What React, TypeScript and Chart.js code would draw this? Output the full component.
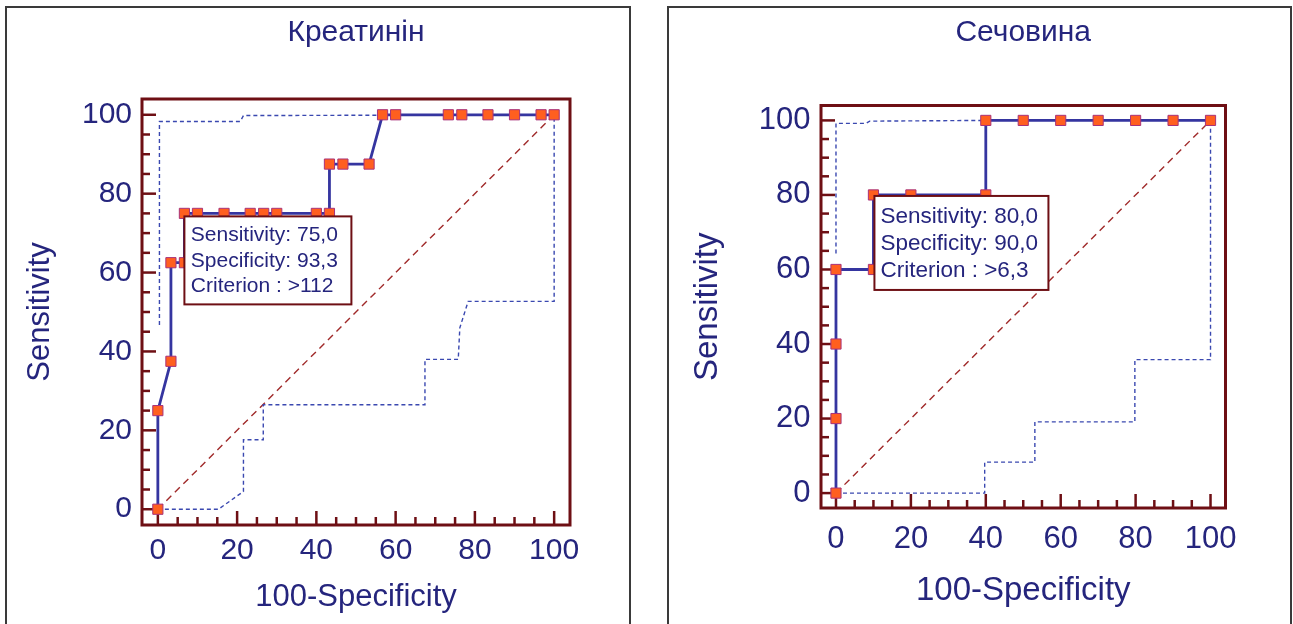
import React, { useEffect, useRef } from "react";
import { Chart, registerables } from "chart.js";

Chart.register(...registerables);

// ---------- Text ----------
const TITLE_CREA = "Креатинін";
const TITLE_UREA = "Сечовина";
const X_TITLE = "100-Specificity";
const Y_TITLE = "Sensitivity";

// ---------- Axis ticks ----------
const TICK_VALUES = [0, 20, 40, 60, 80, 100];
const MINOR_TICK_VALUES = [0, 5, 10, 15, 20, 25, 30, 35, 40, 45, 50, 55, 60, 65, 70, 75, 80, 85, 90, 95, 100];
const AXIS_MIN = -4;
const AXIS_MAX = 104;

// ---------- Креатинін ----------
const CREA_FPR = [0, 0, 3.3, 3.3, 6.7, 6.7, 10, 16.7, 23.3, 26.7, 30, 40, 43.3, 43.3, 46.7, 53.3, 56.7, 60, 73.3, 76.7, 83.3, 90, 96.7, 100];
const CREA_SENS = [0, 25, 37.5, 62.5, 62.5, 75, 75, 75, 75, 75, 75, 75, 75, 87.5, 87.5, 87.5, 100, 100, 100, 100, 100, 100, 100, 100];
const CREA_UPPER_X = [0.4, 0.4, 20.8, 21.6, 100];
const CREA_UPPER_Y = [46.7, 98.3, 98.3, 99.8, 100];
const CREA_LOWER_X = [0, 15.3, 21.6, 21.6, 26.6, 26.6, 67.4, 67.4, 75.8, 76.2, 78.3, 100, 100];
const CREA_LOWER_Y = [0, 0, 4.5, 17.6, 17.6, 26.5, 26.5, 38, 38, 46, 52.7, 52.7, 100];
const CREA_CRITERION = [6.7, 75];
const CREA_BOX_LINES = ["Sensitivity: 75,0", "Specificity: 93,3", "Criterion : >112"];

// ---------- Сечовина ----------
const UREA_FPR = [0, 0, 0, 0, 10, 10, 20, 40, 40, 50, 60, 70, 80, 90, 100];
const UREA_SENS = [0, 20, 40, 60, 60, 80, 80, 80, 100, 100, 100, 100, 100, 100, 100];
const UREA_UPPER_X = [0, 0, 8, 9, 40, 100];
const UREA_UPPER_Y = [64.3, 99.2, 99.2, 99.8, 100, 100];
const UREA_LOWER_X = [0, 39.7, 39.7, 53.1, 53.1, 79.8, 79.8, 100, 100];
const UREA_LOWER_Y = [0, 0, 8.3, 8.3, 19.1, 19.1, 35.8, 35.8, 100];
const UREA_CRITERION = [10, 80];
const UREA_BOX_LINES = ["Sensitivity: 80,0", "Specificity: 90,0", "Criterion : >6,3"];

const DIAG_X = [0, 100];
const DIAG_Y = [0, 100];

// ---------- Styles ----------
const FONT = "'Liberation Sans', Arial, Helvetica, sans-serif";
const TEXT_COLOR = "#25257d";
const FRAME_COLOR = "#6e0f14";
const ROC_COLOR = "#3535a0";
const MARKER_FILL = "#ff5f1f";
const MARKER_BORDER = "#a8327a";
const BAND_COLOR = "#3a48b0";
const DIAG_COLOR = "#a02a2a";

const zip = (xs: number[], ys: number[]) => xs.map((x, i) => ({ x, y: ys[i] }));

const frameTicksPlugin = {
  id: "frameTicks",
  beforeDatasetsDraw(chart: any) {
    const { ctx, chartArea: a, scales } = chart;
    ctx.save();
    ctx.strokeStyle = FRAME_COLOR;
    ctx.lineWidth = 2.5;
    MINOR_TICK_VALUES.forEach((v) => {
      const len = TICK_VALUES.includes(v) ? 14 : 8;
      const px = scales.x.getPixelForValue(v);
      ctx.beginPath();
      ctx.moveTo(px, a.bottom);
      ctx.lineTo(px, a.bottom - len);
      ctx.stroke();
      const py = scales.y.getPixelForValue(v);
      ctx.beginPath();
      ctx.moveTo(a.left, py);
      ctx.lineTo(a.left + len, py);
      ctx.stroke();
    });
    ctx.lineWidth = 3;
    ctx.strokeRect(a.left, a.top, a.right - a.left, a.bottom - a.top);
    ctx.restore();
  },
};

const rocBoxPlugin = {
  id: "rocBox",
  afterDatasetsDraw(chart: any, _args: any, opts: any) {
    const { ctx, scales } = chart;
    const x0 = scales.x.getPixelForValue(opts.anchor[0]) + opts.dx;
    const y0 = scales.y.getPixelForValue(opts.anchor[1]) + opts.dy;
    ctx.save();
    ctx.fillStyle = "#ffffff";
    ctx.fillRect(x0, y0, opts.w, opts.h);
    ctx.strokeStyle = FRAME_COLOR;
    ctx.lineWidth = 2;
    ctx.strokeRect(x0, y0, opts.w, opts.h);
    ctx.fillStyle = TEXT_COLOR;
    ctx.font = `${opts.fontSize}px ${FONT}`;
    ctx.textBaseline = "alphabetic";
    ctx.textAlign = "left";
    opts.lines.forEach((t: string, i: number) => {
      ctx.fillText(t, x0 + opts.padX, y0 + opts.firstBaseline + i * opts.lineGap);
    });
    ctx.restore();
  },
};

type PanelCfg = {
  title: string;
  fpr: number[];
  sens: number[];
  upperX: number[];
  upperY: number[];
  lowerX: number[];
  lowerY: number[];
  criterion: number[];
  boxLines: string[];
  L: any;
};

function makeConfig(p: PanelCfg): any {
  const L = p.L;
  return {
    type: "scatter",
    data: {
      datasets: [
        {
          data: zip(p.fpr, p.sens),
          showLine: true,
          borderColor: ROC_COLOR,
          borderWidth: 2.8,
          pointStyle: "rect",
          pointRadius: 7.2,
          pointBackgroundColor: MARKER_FILL,
          pointBorderColor: MARKER_BORDER,
          pointBorderWidth: 1,
          order: 0,
        },
        {
          data: zip(p.upperX, p.upperY),
          showLine: true,
          borderColor: BAND_COLOR,
          borderWidth: 1.4,
          borderDash: [4, 3],
          pointRadius: 0,
          order: 1,
        },
        {
          data: zip(p.lowerX, p.lowerY),
          showLine: true,
          borderColor: BAND_COLOR,
          borderWidth: 1.4,
          borderDash: [4, 3],
          pointRadius: 0,
          order: 2,
        },
        {
          data: zip(DIAG_X, DIAG_Y),
          showLine: true,
          borderColor: DIAG_COLOR,
          borderWidth: 1.4,
          borderDash: [7, 5],
          pointRadius: 0,
          order: 3,
        },
      ],
    },
    options: {
      responsive: false,
      animation: false,
      devicePixelRatio: 1,
      layout: { padding: { left: 0, right: L.padRight, top: 0, bottom: 0 } },
      scales: {
        x: {
          type: "linear",
          min: AXIS_MIN,
          max: AXIS_MAX,
          afterBuildTicks: (s: any) => {
            s.ticks = TICK_VALUES.map((v) => ({ value: v }));
          },
          afterFit: (s: any) => {
            s.height = L.xHeight;
          },
          grid: { display: false, drawTicks: false },
          border: { display: false },
          ticks: {
            color: TEXT_COLOR,
            font: { family: FONT, size: L.tickSize },
            padding: L.xTickPad,
            maxRotation: 0,
            autoSkip: false,
            callback: (v: any) => String(v),
          },
          title: {
            display: true,
            text: X_TITLE,
            color: TEXT_COLOR,
            font: { family: FONT, size: L.axisTitleSize },
            padding: { top: 0, bottom: L.xTitlePad },
          },
        },
        y: {
          type: "linear",
          min: AXIS_MIN,
          max: AXIS_MAX,
          afterBuildTicks: (s: any) => {
            s.ticks = TICK_VALUES.map((v) => ({ value: v }));
          },
          afterFit: (s: any) => {
            s.width = L.yWidth;
          },
          grid: { display: false, drawTicks: false },
          border: { display: false },
          ticks: {
            color: TEXT_COLOR,
            font: { family: FONT, size: L.tickSize },
            padding: L.yTickPad,
            autoSkip: false,
            callback: (v: any) => String(v),
          },
          title: {
            display: true,
            text: Y_TITLE,
            color: TEXT_COLOR,
            font: { family: FONT, size: L.axisTitleSize },
            padding: { top: L.yTitlePad, bottom: 0 },
          },
        },
      },
      plugins: {
        legend: { display: false },
        tooltip: { enabled: false },
        title: {
          display: true,
          text: p.title,
          fullSize: false,
          color: TEXT_COLOR,
          font: { family: FONT, size: 30, weight: "normal" },
          padding: { top: L.titleTop, bottom: L.titleBottom },
        },
        rocBox: {
          anchor: p.criterion,
          lines: p.boxLines,
          ...L.box,
        },
      },
    },
    plugins: [frameTicksPlugin, rocBoxPlugin],
  };
}

const LEFT_LAYOUT = {
  canvasLeft: 8,
  canvasTop: 9,
  width: 621,
  height: 615,
  padRight: 59,
  yWidth: 134,
  xHeight: 99,
  titleTop: 5.6,
  titleBottom: 48.4,
  tickSize: 30,
  axisTitleSize: 31,
  xTickPad: 7.6,
  yTickPad: 10,
  xTitlePad: 8,
  yTitlePad: 13.4,
  box: { dx: 0, dy: 3, w: 167, h: 88, fontSize: 21, padX: 6.4, firstBaseline: 25, lineGap: 25.3 },
};

const RIGHT_LAYOUT = {
  canvasLeft: 670,
  canvasTop: 9,
  width: 620,
  height: 615,
  padRight: 64.5,
  yWidth: 151,
  xHeight: 116,
  titleTop: 5.6,
  titleBottom: 54.9,
  tickSize: 31,
  axisTitleSize: 33,
  xTickPad: 12.7,
  yTickPad: 10.5,
  xTitlePad: 13.3,
  yTitlePad: 18.4,
  box: { dx: 1, dy: 1, w: 174, h: 94, fontSize: 22.5, padX: 6, firstBaseline: 27.3, lineGap: 26.7 },
};

function RocPanel({ cfg }: { cfg: PanelCfg }) {
  const ref = useRef<HTMLCanvasElement>(null);
  useEffect(() => {
    if (!ref.current) return;
    const chart = new Chart(ref.current, makeConfig(cfg));
    return () => chart.destroy();
  }, [cfg]);
  const L = cfg.L;
  return (
    <canvas
      ref={ref}
      width={L.width}
      height={L.height}
      style={{
        position: "absolute",
        left: L.canvasLeft,
        top: L.canvasTop,
        width: L.width,
        height: L.height,
      }}
    />
  );
}

const CREA_CFG: PanelCfg = {
  title: TITLE_CREA,
  fpr: CREA_FPR,
  sens: CREA_SENS,
  upperX: CREA_UPPER_X,
  upperY: CREA_UPPER_Y,
  lowerX: CREA_LOWER_X,
  lowerY: CREA_LOWER_Y,
  criterion: CREA_CRITERION,
  boxLines: CREA_BOX_LINES,
  L: LEFT_LAYOUT,
};

const UREA_CFG: PanelCfg = {
  title: TITLE_UREA,
  fpr: UREA_FPR,
  sens: UREA_SENS,
  upperX: UREA_UPPER_X,
  upperY: UREA_UPPER_Y,
  lowerX: UREA_LOWER_X,
  lowerY: UREA_LOWER_Y,
  criterion: UREA_CRITERION,
  boxLines: UREA_BOX_LINES,
  L: RIGHT_LAYOUT,
};

export default function App() {
  return (
    <div
      style={{
        position: "absolute",
        left: 0,
        top: 0,
        width: 1293,
        height: 624,
        overflow: "hidden",
        background: "#ffffff",
      }}
    >
      <div
        style={{
          position: "absolute",
          left: 5,
          top: 6,
          width: 622,
          height: 700,
          border: "2px solid #3a3a3a",
        }}
      />
      <div
        style={{
          position: "absolute",
          left: 667,
          top: 6,
          width: 621,
          height: 700,
          border: "2px solid #3a3a3a",
        }}
      />
      <RocPanel cfg={CREA_CFG} />
      <RocPanel cfg={UREA_CFG} />
    </div>
  );
}
